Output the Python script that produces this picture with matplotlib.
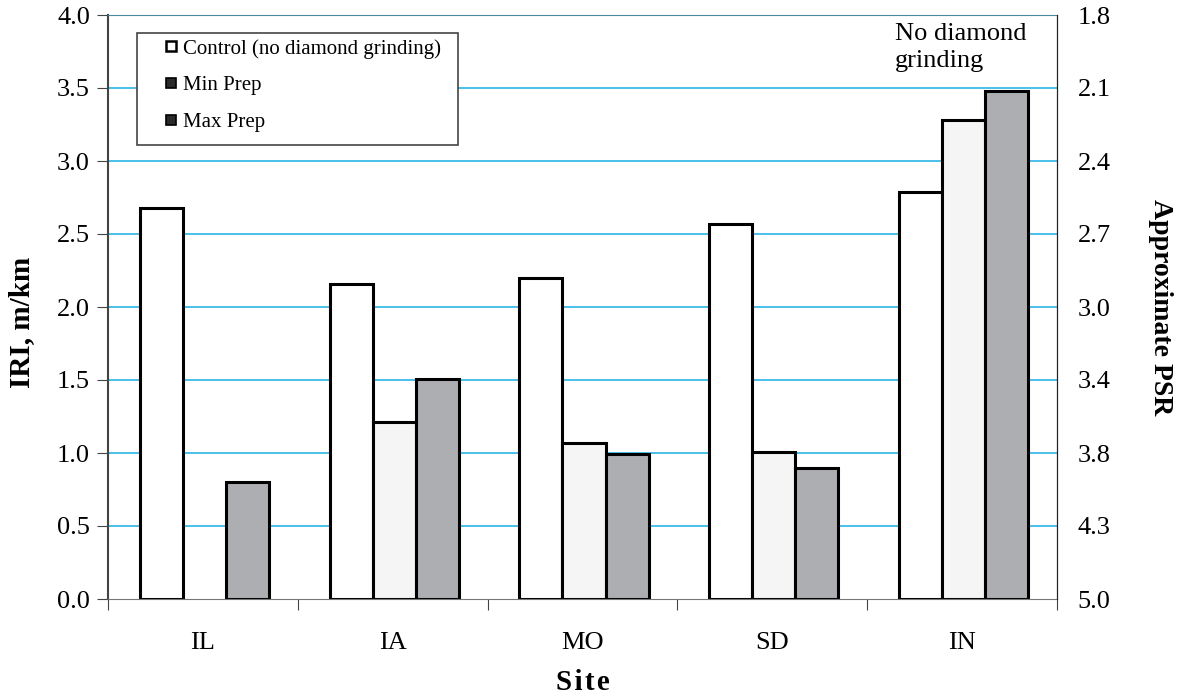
import numpy as np
import matplotlib
matplotlib.use("Agg")
import matplotlib.pyplot as plt
from matplotlib.lines import Line2D
from matplotlib.patches import Rectangle

# Data
sites = ["IL", "IA", "MO", "SD", "IN"]
control = [2.68, 2.16, 2.20, 2.57, 2.79]
min_prep = [np.nan, 1.21, 1.07, 1.01, 3.28]
max_prep = [0.80, 1.51, 0.99, 0.90, 3.48]
series_names = ["Control (no diamond grinding)", "Min Prep", "Max Prep"]
iri_ticks = [0.0, 0.5, 1.0, 1.5, 2.0, 2.5, 3.0, 3.5, 4.0]
psr_labels = ["5.0", "4.3", "3.8", "3.4", "3.0", "2.7", "2.4", "2.1", "1.8"]

plt.rcParams["font.family"] = ["Liberation Serif", "DejaVu Serif"]

W, H = 1183, 698
fig = plt.figure(figsize=(W / 100, H / 100), dpi=100)
ax = fig.add_axes([108 / W, 1 - 599 / H, (1057 - 108) / W, (599 - 15) / H])

grid_color = "#2bb5e6"
fills = ["#ffffff", "#f5f5f5", "#adaeb2"]
x = np.arange(len(sites))
bw = 0.227
for i, (vals, fc) in enumerate(zip([control, min_prep, max_prep], fills)):
    ax.bar(x + (i - 1) * bw + 0.008, vals, width=bw, color=fc, edgecolor="black",
           linewidth=2.2, zorder=3)

ax.set_xlim(-0.5, len(sites) - 0.5)
ax.set_ylim(0, 4.0)
ax.set_yticks(iri_ticks)
ax.set_yticklabels([f"{v:.1f}" for v in iri_ticks], fontsize=19)
for v in iri_ticks[1:-1]:
    ax.axhline(v, color=grid_color, linewidth=1.2, zorder=1)

# Category ticks sit at group boundaries; labels at group centres
ax.set_xticks(np.arange(-0.5, len(sites) + 0.5, 1.0))
ax.set_xticklabels([])
ax.set_xticks(x, minor=True)
ax.set_xticklabels(sites, minor=True, fontsize=19)
ax.tick_params(axis="x", which="major", direction="out", length=8, color="#444444")
ax.tick_params(axis="x", which="minor", length=0, pad=24)
ax.tick_params(axis="y", direction="out", length=8, color="#444444", pad=5)

ax.spines["left"].set_color("#444444")
ax.spines["left"].set_linewidth(1.5)
ax.spines["bottom"].set_color("#777777")
ax.spines["top"].set_color("#4a8aa0")
ax.spines["right"].set_color("#222222")
for s in ax.spines.values():
    s.set_zorder(4)

ax.set_ylabel("IRI, m/km", fontsize=21, fontweight="bold", va="center")
ax.yaxis.set_label_coords(-0.0906, 0.474)
ax.set_xlabel("S\u200ai\u200at\u200ae", fontsize=21, fontweight="bold", va="baseline")
ax.xaxis.set_label_coords(0.5, -0.1558)

# Secondary PSR scale on the right
ax2 = ax.twinx()
ax2.set_ylim(ax.get_ylim())
ax2.set_yticks(iri_ticks)
ax2.set_yticklabels(psr_labels, fontsize=19)
ax2.tick_params(axis="y", length=0, pad=15)
for s in ["left", "top", "bottom"]:
    ax2.spines[s].set_visible(False)
ax2.spines["right"].set_color("#222222")
ax2.set_ylabel("Approximate PSR", fontsize=20, fontweight="bold",
               rotation=270, va="center")
ax2.yaxis.set_label_coords(1.109, 0.5)

ax.text(3.647, 3.945, "No diamond\ngrinding", fontsize=19, ha="left", va="top",
        linespacing=1.28, zorder=5)

# Legend: entries without a frame, boxed by a separate rectangle
handles = [
    Line2D([], [], linestyle="none", marker="s", markersize=7,
           markerfacecolor="white", markeredgecolor="black", markeredgewidth=1.8),
    Line2D([], [], linestyle="none", marker="s", markersize=7,
           markerfacecolor="#2a2a2a", markeredgecolor="black", markeredgewidth=1.2),
    Line2D([], [], linestyle="none", marker="s", markersize=7,
           markerfacecolor="#2a2a2a", markeredgecolor="black", markeredgewidth=1.2),
]
leg = fig.legend(handles, series_names, loc="upper left",
                 bbox_to_anchor=(165 / W, 1 - 39 / H),
                 fontsize=15, frameon=False,
                 handlelength=0.6, handletextpad=0.26, borderpad=0,
                 labelspacing=0.82, borderaxespad=0)
leg.set_zorder(7)
fig.add_artist(Rectangle((137 / W, 1 - 145 / H), (458 - 137) / W, (145 - 33) / H,
                         transform=fig.transFigure, facecolor="white",
                         edgecolor="#444444", linewidth=1.2, zorder=6))

fig.savefig("out.png", dpi=100)
